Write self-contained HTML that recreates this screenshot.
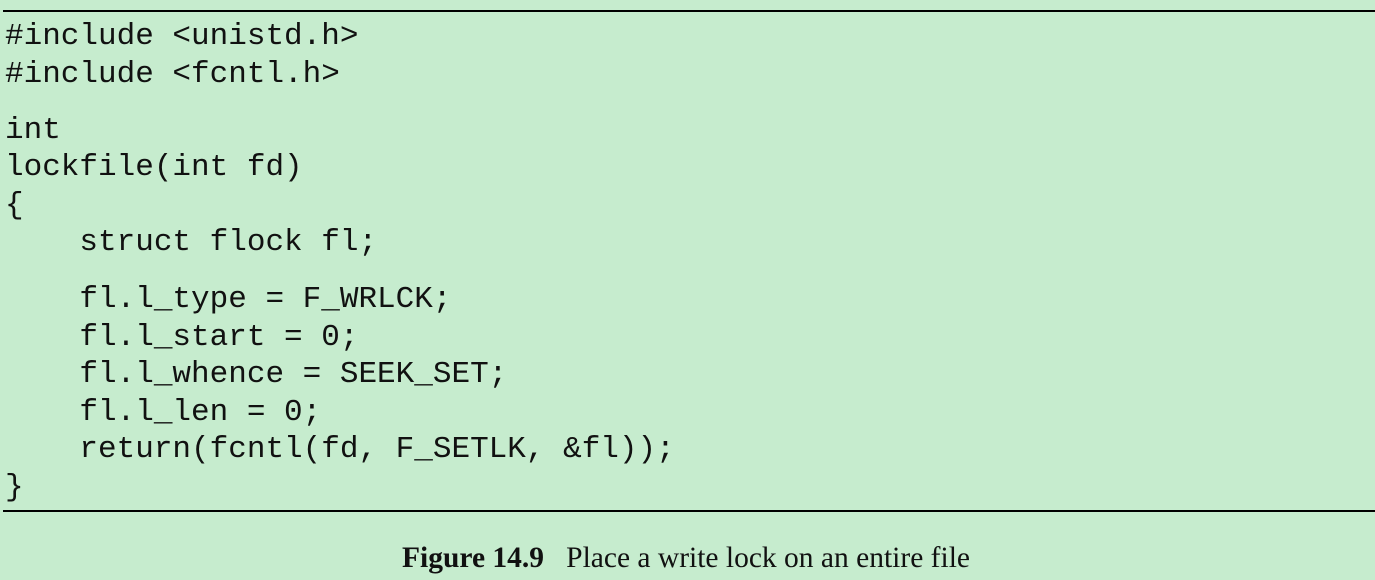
<!DOCTYPE html>
<html><head><meta charset="utf-8"><style>
html,body{margin:0;padding:0;width:1375px;height:580px;background:#c6ecce;overflow:hidden;position:relative}
.l{position:absolute;left:3px;right:0;height:2px;background:#000}
.c{position:absolute;left:5px;font-family:"Liberation Mono",monospace;font-size:31px;line-height:38px;white-space:pre;color:#111}
.cap{position:absolute;left:0;width:1372px;top:540px;text-align:center;font-family:"Liberation Serif",serif;font-size:29.5px;line-height:36px;color:#111;white-space:pre}
</style></head><body>
<div class="l" style="top:10px"></div>
<div class="l" style="top:510px"></div>
<div class="c" style="top:18px">#include &lt;unistd.h&gt;</div>
<div class="c" style="top:56px">#include &lt;fcntl.h&gt;</div>
<div class="c" style="top:112px">int</div>
<div class="c" style="top:149px">lockfile(int fd)</div>
<div class="c" style="top:187px">{</div>
<div class="c" style="top:224px">    struct flock fl;</div>
<div class="c" style="top:281px">    fl.l_type = F_WRLCK;</div>
<div class="c" style="top:319px">    fl.l_start = 0;</div>
<div class="c" style="top:356px">    fl.l_whence = SEEK_SET;</div>
<div class="c" style="top:394px">    fl.l_len = 0;</div>
<div class="c" style="top:431px">    return(fcntl(fd, F_SETLK, &amp;fl));</div>
<div class="c" style="top:469px">}</div>
<div class="cap"><b>Figure 14.9</b>   Place a write lock on an entire file</div>
</body></html>
